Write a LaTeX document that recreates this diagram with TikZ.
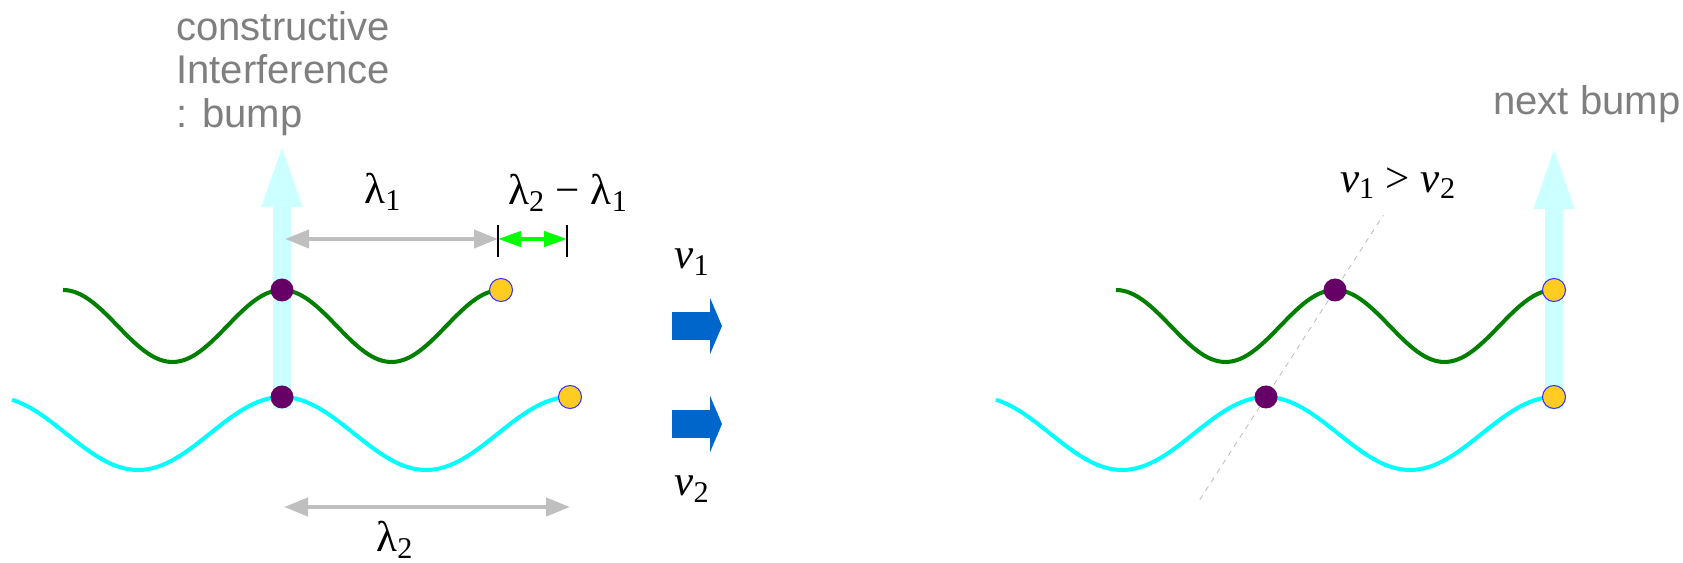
\documentclass[tikz,border=0pt]{standalone}
\usepackage{fontspec}
\setmainfont{Liberation Serif}
\setsansfont{Liberation Sans}
\usepackage{tikz}
\usetikzlibrary{positioning,arrows.meta,calc,backgrounds}
\definecolor{wavegreen}{HTML}{007F00}
\definecolor{wavecyan}{HTML}{00FFFF}
\definecolor{bumpcyan}{HTML}{CCFFFF}
\definecolor{crestpurple}{HTML}{660066}
\definecolor{frontgold}{HTML}{FFCC22}
\definecolor{frontblue}{HTML}{3333FF}
\definecolor{spangray}{HTML}{BFBFBF}
\definecolor{diffgreen}{HTML}{00FF00}
\definecolor{velblue}{HTML}{0066CC}
\definecolor{notegray}{HTML}{7F7F7F}

\begin{document}
\begin{tikzpicture}[
    wave1/.style={draw=wavegreen,line width=2.3pt},
    wave2/.style={draw=wavecyan,line width=2.3pt},
    crest/.style={circle,fill=crestpurple,minimum size=0.46cm,inner sep=0pt},
    front/.style={circle,fill=frontgold,draw=frontblue,line width=0.6pt,
                  minimum size=0.46cm,inner sep=0pt},
    bump/.style={draw=bumpcyan,line width=0.36cm,
                 -{Triangle[length=1.34cm,width=0.70cm]}},
    wavelength/.style={draw=spangray,line width=2.3pt,
                 {Triangle[length=0.48cm,width=0.36cm]}-{Triangle[length=0.48cm,width=0.36cm]}},
    diffarrow/.style={draw=diffgreen,line width=2.3pt,
                 {Triangle[length=0.46cm,width=0.30cm]}-{Triangle[length=0.46cm,width=0.30cm]}},
    endbar/.style={draw=black,line width=0.6pt},
    vel/.style={draw=velblue,line width=0.56cm,
                -{Triangle[length=0.24cm,width=1.12cm]}},
    guide/.style={draw=spangray,dashed,line width=0.5pt},
    note/.style={text=notegray,font=\sffamily\fontsize{22.8}{24.8}\selectfont,
                 align=left,inner sep=0pt},
    sym/.style={font=\fontsize{24.5}{28}\selectfont,inner sep=0pt}
  ]
  \useasboundingbox (0,0) rectangle (33.66,11.26);

  % left: both waves crest together
  \draw[wave1] plot[domain=1.26:10.02,samples=120] (\x,{4.74+0.72*cos(360*(\x-5.64)/4.38)});
  \draw[wave2] plot[domain=0.24:11.40,samples=150] (\x,{2.59+0.73*cos(360*(\x-5.64)/5.76)});

  \node[crest] (a1) at (5.64,5.46) {};
  \node[crest] (a2) at (5.64,3.32) {};
  \node[front] (e1) at (10.02,5.46) {};
  \node[front] (e2) at (11.40,3.32) {};

  \node[note,anchor=north west] (cons) at (3.52,11.04) {constructive\\Interference\\: bump};
  \coordinate (tip1) at (5.64,8.46);

  % wavelengths
  \coordinate (s1) at (5.70,6.48);
  \coordinate (bar1) at (9.96,6.48);
  \coordinate (bar2) at (11.34,6.48);
  \draw[wavelength] (s1) -- (bar1);
  \draw[diffarrow] (bar1) -- (bar2);
  \draw[endbar] ($(bar1)+(0,0.28)$) -- ($(bar1)+(0,-0.36)$);
  \draw[endbar] ($(bar2)+(0,0.28)$) -- ($(bar2)+(0,-0.36)$);
  \node[sym] (l1) at (7.66,7.42) {λ\textsubscript{1}};
  \node[sym] (ld) at (11.36,7.40) {λ\textsubscript{2} − λ\textsubscript{1}};

  \coordinate (s2a) at (5.68,1.12);
  \coordinate (s2b) at (11.40,1.12);
  \draw[wavelength] (s2a) -- (s2b);
  \node[sym] (l2) at (7.90,0.46) {λ\textsubscript{2}};

  % velocities
  \draw[vel] (13.44,4.74) -- (14.44,4.74);
  \draw[vel] (13.44,2.78) -- (14.44,2.78);
  \node[sym] (v1) at (13.84,6.02) {\textit{v}\textsubscript{1}};
  \node[sym] (v2) at (13.84,1.48) {\textit{v}\textsubscript{2}};

  % right: crests meet again
  \draw[wave1] plot[domain=22.32:31.08,samples=120] (\x,{4.74+0.72*cos(360*(\x-26.70)/4.38)});
  \draw[wave2] plot[domain=19.92:31.08,samples=150] (\x,{2.59+0.73*cos(360*(\x-25.32)/5.76)});

  \node[crest] (b1) at (26.70,5.46) {};
  \node[crest] (b2) at (25.32,3.32) {};
  \node[front] (f1) at (31.08,5.46) {};
  \node[front] (f2) at (31.08,3.32) {};

  \node[note,anchor=base west] (next) at (29.86,8.96) {next bump};
  \coordinate (tip2) at (31.08,8.42);
  \node[sym] (vv) at (27.96,7.60) {\textit{v}\textsubscript{1} > \textit{v}\textsubscript{2}};

  \begin{scope}[on background layer]
    \draw[bump] (a2.south) -- (a2.south |- tip1);
    \draw[bump] (f2.south) -- (f2.south |- tip2);
    \draw[guide] ($(b2)!-0.96!(b1)$) -- ($(b2)!1.7!(b1)$);
  \end{scope}

\end{tikzpicture}
\end{document}
